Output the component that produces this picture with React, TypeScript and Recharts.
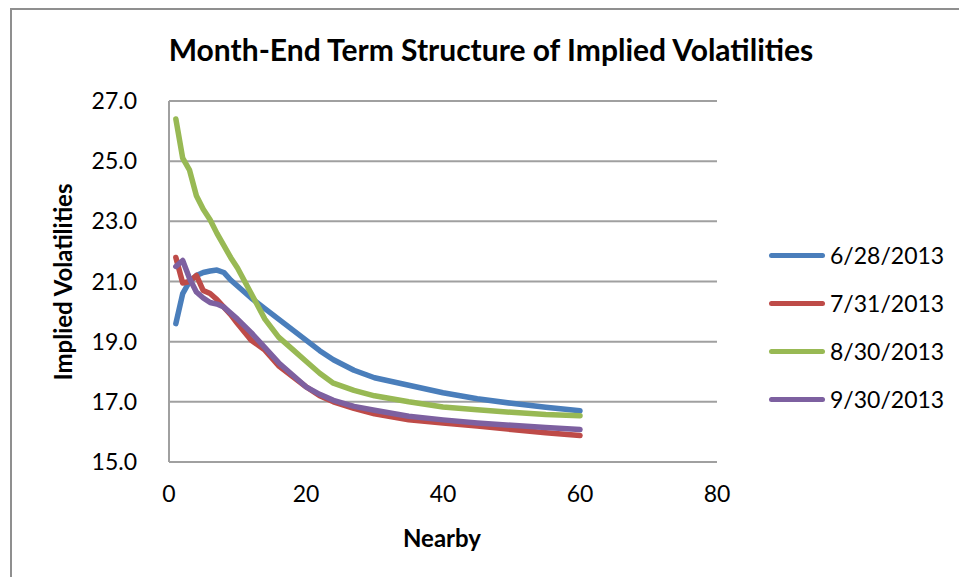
import React from 'react';
import { LineChart, Line, XAxis, YAxis, CartesianGrid } from 'recharts';

// nearby contract number (x) and implied vols per month-end date
const nearby = [1, 2, 3, 4, 5, 6, 7, 8, 9, 10, 12, 14, 16, 18, 20, 22, 24, 27, 30, 35, 40, 45, 50, 55, 60];
const vol0628 = [19.6, 20.6, 21.0, 21.2, 21.3, 21.35, 21.38, 21.3, 21.05, 20.85, 20.45, 20.1, 19.75, 19.4, 19.05, 18.7, 18.4, 18.05, 17.8, 17.55, 17.3, 17.1, 16.95, 16.82, 16.7];
const vol0731 = [21.8, 20.95, 21.0, 21.2, 20.7, 20.6, 20.4, 20.15, 19.9, 19.6, 19.05, 18.72, 18.2, 17.85, 17.5, 17.2, 17.0, 16.78, 16.6, 16.4, 16.3, 16.2, 16.08, 15.97, 15.88];
const vol0830 = [26.4, 25.1, 24.7, 23.85, 23.4, 23.05, 22.6, 22.2, 21.8, 21.45, 20.6, 19.75, 19.15, 18.75, 18.35, 17.95, 17.62, 17.38, 17.2, 17.0, 16.83, 16.74, 16.65, 16.58, 16.54];
const vol0930 = [21.5, 21.7, 21.1, 20.65, 20.45, 20.3, 20.25, 20.15, 19.95, 19.75, 19.3, 18.8, 18.3, 17.9, 17.5, 17.25, 17.05, 16.85, 16.72, 16.52, 16.4, 16.3, 16.22, 16.15, 16.08];

const xTicks = [0, 20, 40, 60, 80];
const yTicks = [15, 17, 19, 21, 23, 25, 27];

const series = [
  { key: 'a', name: '6/28/2013', color: '#4a7ebb', values: vol0628 },
  { key: 'b', name: '7/31/2013', color: '#be4b48', values: vol0731 },
  { key: 'c', name: '8/30/2013', color: '#98b954', values: vol0830 },
  { key: 'd', name: '9/30/2013', color: '#7d60a0', values: vol0930 },
];

const data = nearby.map((n, i) => {
  const row: any = { n };
  series.forEach((s) => { row[s.key] = s.values[i]; });
  return row;
});

const FONT = 'Lato, "Open Sans", sans-serif';
const GRID = '#a0a0a0';

export default function App() {
  return (
    <div style={{ position: 'absolute', left: 0, top: 0, width: 959, height: 577, overflow: 'hidden', background: '#fff', fontFamily: FONT }}>
      {/* chart frame, only top and left edges show */}
      <div style={{ position: 'absolute', left: 10, top: 8, width: 1000, height: 700, borderLeft: '2px solid #8f8f8f', borderTop: '2px solid #8f8f8f' }} />

      <div style={{ position: 'absolute', left: 0, top: 31, width: 982, textAlign: 'center', fontSize: 30, lineHeight: '36px', fontWeight: 700, color: '#000' }}>
        Month-End Term Structure of Implied Volatilities
      </div>

      <LineChart width={959} height={577} data={data} margin={{ top: 101, right: 242, bottom: 85, left: 109 }} style={{ position: 'absolute', left: 0, top: 0 }}>
        <CartesianGrid horizontal={true} vertical={false} stroke={GRID} strokeWidth={2} />
        <XAxis
          dataKey="n"
          type="number"
          domain={[0, 80]}
          ticks={xTicks}
          interval={0}
          height={30}
          tickSize={0}
          tickMargin={24}
          tickLine={false}
          axisLine={{ stroke: GRID, strokeWidth: 2 }}
          tick={{ fontSize: 23, fill: '#000', fontFamily: FONT }}
        />
        <YAxis
          type="number"
          domain={[15, 27]}
          ticks={yTicks}
          interval={0}
          width={60}
          tickSize={0}
          tickMargin={32}
          tickLine={false}
          axisLine={{ stroke: GRID, strokeWidth: 2 }}
          tickFormatter={(v: number) => v.toFixed(1)}
          tick={{ fontSize: 23, fill: '#000', fontFamily: FONT }}
        />
        {series.map((s) => (
          <Line
            key={s.key}
            type="linear"
            dataKey={s.key}
            name={s.name}
            stroke={s.color}
            strokeWidth={5.5}
            strokeLinecap="round"
            strokeLinejoin="round"
            dot={false}
            isAnimationActive={false}
          />
        ))}
      </LineChart>

      <div style={{ position: 'absolute', left: 403, top: 523, fontSize: 24, fontWeight: 700 }}>Nearby</div>
      <div style={{ position: 'absolute', left: 62, top: 282, width: 0, height: 0 }}>
        <div style={{ position: 'absolute', left: 0, top: 0, transform: 'translate(-50%, -50%) rotate(-90deg)', whiteSpace: 'nowrap', fontSize: 24, fontWeight: 700 }}>
          Implied Volatilities
        </div>
      </div>

      {series.map((s, i) => (
        <div key={s.key} style={{ position: 'absolute', left: 769, top: 255 + i * 48 - 16, height: 32, display: 'flex', alignItems: 'center', fontSize: 23 }}>
          <div style={{ width: 56, height: 5, borderRadius: 3, background: s.color, marginRight: 5 }} />
          <span>{s.name}</span>
        </div>
      ))}
    </div>
  );
}
